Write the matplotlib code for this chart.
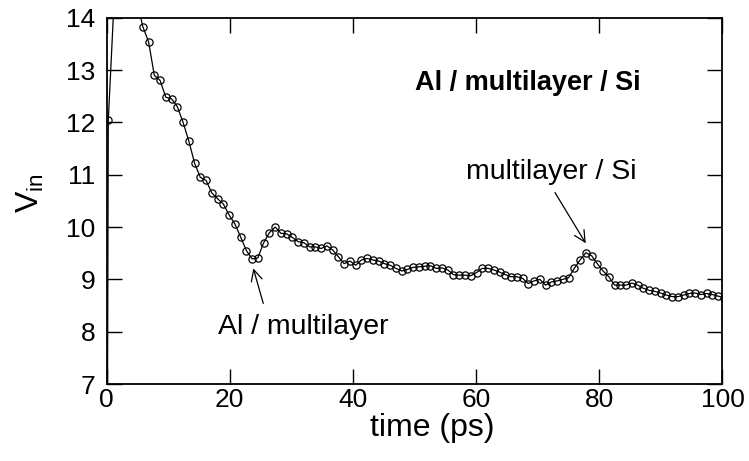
import matplotlib
matplotlib.use("Agg")
import matplotlib.pyplot as plt

plt.rcParams['font.family'] = ['Liberation Sans', 'DejaVu Sans']

# time samples (ps) and input voltage V_in
time_ps = [0.0, 0.29, 1.22, 2.16, 3.09, 4.03, 4.96, 5.89, 6.83, 7.76, 8.70,
           9.63, 10.56, 11.50, 12.43, 13.37, 14.30, 15.23, 16.17, 17.10, 18.04,
           18.97, 19.90, 20.84, 21.77, 22.71, 23.64, 24.57, 25.51, 26.44, 27.38,
           28.31, 29.24, 30.18, 31.11, 32.05, 32.98, 33.91, 34.85, 35.78, 36.72,
           37.65, 38.58, 39.52, 40.45, 41.39, 42.32, 43.25, 44.19, 45.12, 46.06,
           46.99, 47.92, 48.86, 49.79, 50.73, 51.66, 52.59, 53.53, 54.46, 55.40,
           56.33, 57.26, 58.20, 59.13, 60.07, 61.00, 61.93, 62.87, 63.80, 64.74,
           65.67, 66.60, 67.54, 68.47, 69.41, 70.34, 71.27, 72.21, 73.14, 74.08,
           75.01, 75.94, 76.88, 77.81, 78.75, 79.68, 80.61, 81.55, 82.48, 83.42,
           84.35, 85.28, 86.22, 87.15, 88.09, 89.02, 89.95, 90.89, 91.82, 92.76,
           93.69, 94.62, 95.56, 96.49, 97.43, 98.36, 99.29, 100.23]

v_in = [0.0, 12.04, 14.30, 14.60, 14.70, 14.60, 14.32, 13.83, 13.54, 12.90, 12.80,
        12.48, 12.45, 12.30, 12.00, 11.64, 11.22, 10.95, 10.89, 10.65, 10.54,
        10.44, 10.23, 10.06, 9.81, 9.55, 9.39, 9.41, 9.70, 9.89, 10.00,
        9.88, 9.87, 9.80, 9.72, 9.70, 9.62, 9.62, 9.59, 9.64, 9.56,
        9.43, 9.30, 9.35, 9.27, 9.37, 9.40, 9.37, 9.35, 9.30, 9.27,
        9.21, 9.16, 9.19, 9.23, 9.24, 9.25, 9.26, 9.21, 9.22, 9.18,
        9.09, 9.08, 9.08, 9.07, 9.13, 9.21, 9.21, 9.18, 9.14, 9.09,
        9.05, 9.05, 9.02, 8.92, 8.97, 9.00, 8.89, 8.95, 8.97, 9.00,
        9.03, 9.21, 9.37, 9.51, 9.45, 9.30, 9.16, 9.05, 8.89, 8.89,
        8.89, 8.93, 8.89, 8.83, 8.79, 8.77, 8.74, 8.70, 8.67, 8.67,
        8.70, 8.73, 8.74, 8.71, 8.73, 8.71, 8.68, 8.65]

x_ticks = [0, 20, 40, 60, 80, 100]
y_ticks = [7, 8, 9, 10, 11, 12, 13, 14]

W, H = 749, 461
fig = plt.figure(figsize=(W / 100, H / 100), dpi=100)
ax = fig.add_axes([0.1422, 0.167, 0.8224, 0.7946])

ax.plot(time_ps, v_in, color='black', linewidth=0.9, marker='o', markersize=5.2,
        markerfacecolor='none', markeredgecolor='black', markeredgewidth=0.9)

ax.set_xlim(0, 100)
ax.set_ylim(7, 14)
ax.set_xticks(x_ticks)
ax.set_yticks(y_ticks)
ax.tick_params(direction='in', length=11, width=1, top=True, right=True,
               labelsize=19)
ax.tick_params(axis='y', pad=8)
ax.tick_params(axis='x', pad=3)
for s in ax.spines.values():
    s.set_linewidth(1.3)

# axis labels
fig.text(432 / W, 1 - 428 / H, 'time (ps)', fontsize=23, ha='center', va='center')
fig.text(30 / W, 1 - 193 / H, r'V$_{\mathregular{in}}$', fontsize=23,
         rotation=90, ha='center', va='center')

ax.text(68.4, 12.75, 'Al / multilayer / Si', fontsize=19.5, fontweight='bold',
        ha='center', va='center')

arrow_kw = dict(arrowstyle='->', color='black', linewidth=0.9,
                mutation_scale=20, shrinkA=0, shrinkB=0)
ax.text(31.9, 8.09, 'Al / multilayer', fontsize=20.5, ha='center', va='center')
ax.annotate('', xy=(23.83, 9.21), xytext=(25.45, 8.54), arrowprops=arrow_kw)
ax.text(72.15, 11.05, 'multilayer / Si', fontsize=20.5, ha='center', va='center')
ax.annotate('', xy=(77.8, 9.69), xytext=(72.8, 10.66), arrowprops=arrow_kw)

fig.savefig('out.png', dpi=100)
